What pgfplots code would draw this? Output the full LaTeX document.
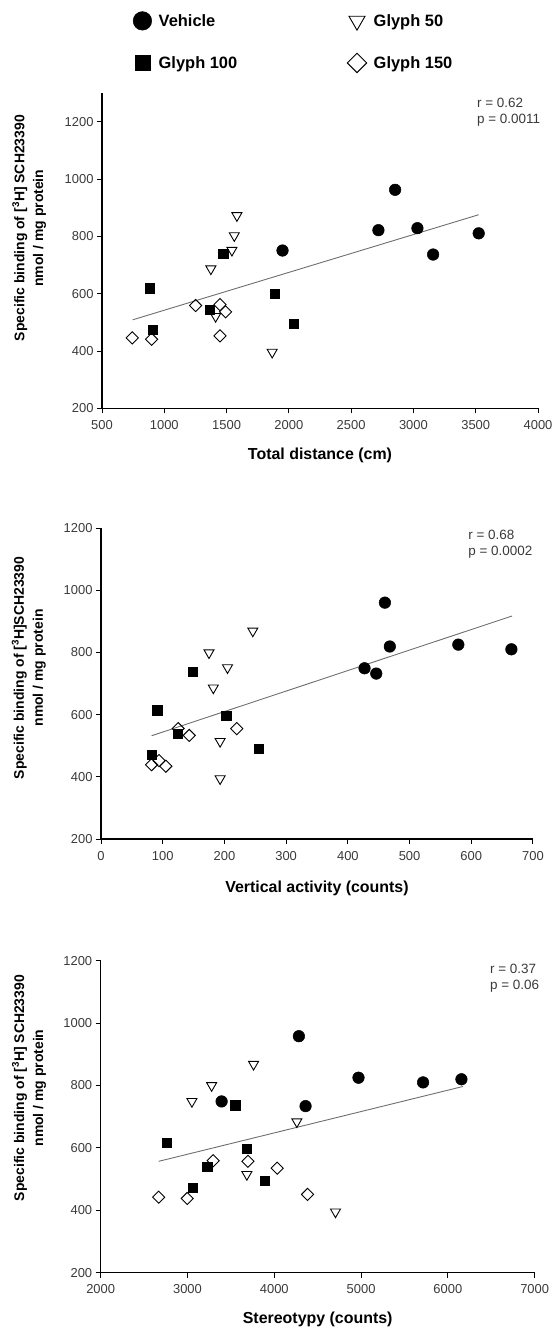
\documentclass[border=0pt]{standalone}
\usepackage{pgfplots}
\pgfplotsset{compat=1.18}
\usepackage{fontspec}
\setmainfont{Liberation Sans}
\definecolor{tickgray}{HTML}{3A3A3A}
\definecolor{linegray}{HTML}{6E6E6E}
\pgfplotsset{
  panel/.style={
    scale only axis,
    axis x line*=bottom, axis y line*=left,
    axis line style={line width=1.4bp, black, -},
    tick align=outside, major tick length=5bp,
    tick style={line width=1bp, black},
    ymin=200, ymax=1200, ytick={200,400,...,1200},
    /pgf/number format/assume math mode=true,
    /pgf/number format/1000 sep={},
    tick label style={font=\fontsize{13}{15}\selectfont, text=tickgray},
    xticklabel style={yshift=-3.5bp},
    xlabel style={font=\bfseries\fontsize{16}{18}\selectfont, anchor=center},
    ylabel style={font=\bfseries\fontsize{14}{19}\selectfont, align=center, anchor=center},
    clip=false,
  },
  veh/.style={only marks, mark=*, mark size=5.8bp, mark options={fill=black, draw=black, line width=0.5bp}},
  g50/.style={only marks, mark=triangle, mark size=5.8bp, mark options={rotate=180, fill=white, draw=black, line width=0.9bp}},
  g100/.style={only marks, mark=square*, mark size=4.6bp, mark options={fill=black, draw=black, line width=0.5bp}},
  g150/.style={only marks, mark=square, mark size=4.3bp, mark options={rotate=45, fill=white, draw=black, line width=0.9bp}},
  fit/.style={no marks, linegray, line width=0.9bp},
}
\begin{document}
\begin{tikzpicture}
\useasboundingbox (0,0) rectangle (552bp,-1328bp);
% ---------------- Panel 1 ----------------
\begin{axis}[panel,
  at={(102bp,-408.3bp)}, anchor=south west,
  width=436bp, height=315bp,
  xmin=500, xmax=4000, xtick={500,1000,...,4000},
  ymax=1300,
  xlabel={Total distance (cm)},
  xlabel style={at={(axis description cs:0.5,-0.148)}},
  ylabel={Specific binding of [\textsuperscript{3}H] SCH23390\\nmol / mg protein},
  ylabel style={at={(axis description cs:-0.167,0.572)}},
  legend columns=2,
  legend cell align=left,
  legend image code/.code={\draw[#1] plot coordinates {(0bp,0bp)};},
  legend image post style={/tikz/every mark/.append style={scale=1.6}},
  legend style={at={(axis description cs:0.071,1.26)}, anchor=north west,
    draw=none, fill=none, inner sep=0pt, row sep=23bp,
    font=\bfseries\fontsize{16.5}{18}\selectfont,
    /tikz/every odd column/.append style={column sep=5bp},
    /tikz/every even column/.append style={column sep=108bp}},
]
\addplot[veh] coordinates {(1949,751) (2719,822) (2853,963) (3032,829) (3158,737) (3524,811)};
\addlegendentry{Vehicle}
\addplot[g50] coordinates {(1583,873) (1562,803) (1543,752) (1374,687) (1866,396) (1412,521)};
\addlegendentry{Glyph 50}
\addplot[g100] coordinates {(885,619) (906,475) (1366,543) (1473,741) (1885,600) (2038,496)};
\addlegendentry{Glyph 100}
\addplot[g150] coordinates {(743,446) (898,441) (1251,559) (1447,562) (1492,537) (1447,453)};
\addlegendentry{Glyph 150}
\addplot[fit, forget plot] coordinates {(746,509) (3524,876)};
\node[anchor=north west, align=left, inner sep=0pt, text=tickgray,
  font=\fontsize{13.5}{16}\selectfont] at (axis description cs:0.86,0.985) {r = 0.62\\p = 0.0011};
\end{axis}
% ---------------- Panel 2 ----------------
\begin{axis}[panel,
  at={(101bp,-839bp)}, anchor=south west,
  width=432bp, height=311bp,
  xmin=0, xmax=700, xtick={0,100,...,700},
  xlabel={Vertical activity (counts)},
  xlabel style={at={(axis description cs:0.5,-0.158)}},
  ylabel={Specific binding of [\textsuperscript{3}H]SCH23390\\nmol / mg protein},
  ylabel style={at={(axis description cs:-0.167,0.55)}},
]
\addplot[veh] coordinates {(427,749) (446,732) (460,960) (468,819) (579,825) (665,810)};
\addplot[g50] coordinates {(246,869) (175,799) (205,751) (182,686) (193,514) (193,394)};
\addplot[g100] coordinates {(91,614) (82,471) (124,539) (149,738) (203,597) (255,490)};
\addplot[g150] coordinates {(82,439) (94,452) (105,434) (125,555) (143,533) (220,555)};
\addplot[fit] coordinates {(82,532) (666,917)};
\node[anchor=north west, align=left, inner sep=0pt, text=tickgray,
  font=\fontsize{13.5}{16}\selectfont] at (axis description cs:0.85,0.994) {r = 0.68\\p = 0.0002};
\end{axis}
% ---------------- Panel 3 ----------------
\begin{axis}[panel,
  at={(100.7bp,-1272.7bp)}, anchor=south west,
  width=434bp, height=312bp,
  xmin=2000, xmax=7000, xtick={2000,3000,...,7000},
  xlabel={Stereotypy (counts)},
  xlabel style={at={(axis description cs:0.5,-0.148)}},
  ylabel={Specific binding of [\textsuperscript{3}H] SCH23390\\nmol / mg protein},
  ylabel style={at={(axis description cs:-0.165,0.592)}},
]
\addplot[veh] coordinates {(3393,749) (4283,958) (4360,734) (4970,825) (5714,810) (6156,820)};
\addplot[g50] coordinates {(3761,868) (3278,800) (3051,749) (4260,684) (3684,515) (4705,395)};
\addplot[g100] coordinates {(2763,617) (3059,472) (3227,540) (3550,737) (3684,597) (3892,494)};
\addplot[g150] coordinates {(2668,442) (2997,438) (3296,559) (3696,557) (4033,535) (4383,451)};
\addplot[fit] coordinates {(2668,557) (6175,797)};
\node[anchor=north west, align=left, inner sep=0pt, text=tickgray,
  font=\fontsize{13.5}{16}\selectfont] at (axis description cs:0.897,0.99) {r = 0.37\\p = 0.06};
\end{axis}
\end{tikzpicture}
\end{document}
